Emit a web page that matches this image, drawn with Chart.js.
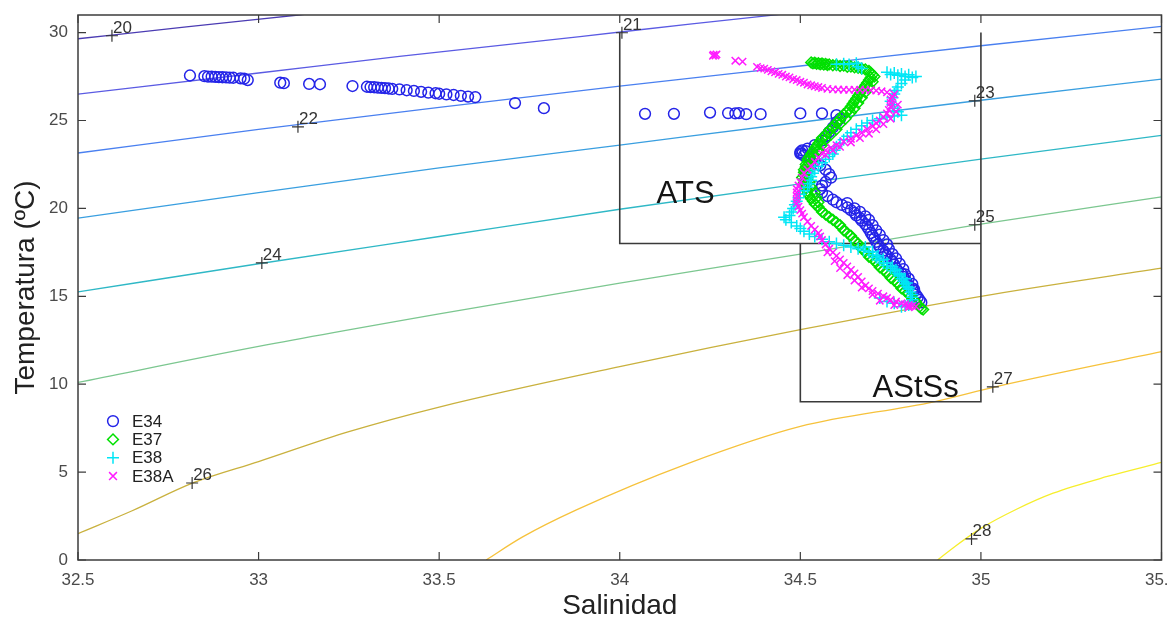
<!DOCTYPE html>
<html><head><meta charset="utf-8">
<script src="https://cdn.jsdelivr.net/npm/chart.js@4.4.1/dist/chart.umd.min.js"></script>
<style>html,body{margin:0;padding:0;background:#fff;overflow:hidden}#wrap{position:relative;width:1169px;height:628px}</style>
</head><body><div id="wrap"><canvas id="c" width="1169" height="628"></canvas></div>
<script>
// ---- axis ticks ----
const xTicks = [32.5, 33, 33.5, 34, 34.5, 35, 35.5];
const yTicks = [0, 5, 10, 15, 20, 25, 30];

// ---- isopycnals (sigma-t): [S, T] ----
const isoLevels = [20, 21, 22, 23, 24, 25, 26, 27, 28];
const iso20 = [[32.5,29.65],[32.8,30.32],[33.11,31.0],[33.2,31.2]];
const iso21 = [[32.5,26.5],[33.0,27.7],[33.39,28.65],[33.89,29.77],[34.2,30.5],[34.45,31.05]];
const iso22 = [[32.5,23.15],[33.0,24.5],[33.5,25.75],[34.0,26.95],[34.5,28.1],[35.0,29.25],[35.5,30.35]];
const iso23 = [[32.5,19.45],[33.0,20.9],[33.5,22.3],[34.0,23.6],[34.5,24.9],[35.0,26.15],[35.5,27.35]];
const iso24 = [[32.5,15.25],[33.0,16.85],[33.5,18.4],[34.0,19.95],[34.5,21.4],[35.0,22.8],[35.5,24.15]];
const iso25 = [[32.5,10.1],[33.0,12.15],[33.5,14.0],[34.0,15.75],[34.5,17.4],[35.0,19.1],[35.5,20.65]];
const iso26 = [[32.5,1.5],[32.65,2.8],[32.82,4.4],[33.0,5.6],[33.25,7.3],[33.5,8.7],[34.0,11.0],[34.5,13.1],[35.0,15.0],[35.5,16.6]];
const iso27 = [[33.63,0],[33.73,1.3],[33.88,2.85],[34.19,5.5],[34.5,7.6],[34.87,9.0],[35.04,9.85],[35.5,11.85]];
const iso28 = [[34.88,0],[34.93,0.8],[35.0,1.8],[35.1,2.9],[35.2,3.8],[35.35,4.75],[35.5,5.55]];
const isoLines = [iso20, iso21, iso22, iso23, iso24, iso25, iso26, iso27, iso28];
// label "+" positions for each isopycnal
const isoLabelPos = [[32.594,29.82],[34.006,29.99],[33.109,24.64],[34.983,26.12],[33.009,16.9],[34.983,19.07],[32.816,4.38],[35.033,9.85],[34.974,1.2]];

// ---- water mass boxes ----
const atsBox = [[34,30],[34,18],[35,18]];
const outerRight = [[35,30],[35,9],[34.5,9],[34.5,18]];
const massNames = ['ATS', 'AStSs'];
const massLabelPos = [[34.102,20.3],[34.70,9.28]];

// ---- stations: [Salinidad, Temperatura] ----
const seriesNames = ['E34', 'E37', 'E38', 'E38A'];
const E34 = [
 [32.81,27.56],[32.85,27.52],[32.86,27.5],[32.87,27.5],[32.88,27.48],[32.89,27.47],[32.9,27.46],[32.91,27.45],[32.92,27.44],[32.93,27.43],[32.95,27.4],[32.96,27.38],[32.97,27.3],
 [33.06,27.15],[33.07,27.12],[33.14,27.08],[33.17,27.06],
 [33.26,26.96],[33.3,26.92],[33.31,26.9],[33.32,26.89],[33.33,26.87],[33.34,26.86],[33.35,26.84],[33.36,26.82],[33.37,26.8],[33.39,26.77],[33.41,26.72],[33.43,26.68],[33.45,26.63],[33.47,26.58],[33.49,26.55],[33.5,26.52],[33.52,26.48],[33.54,26.45],[33.56,26.4],[33.58,26.36],[33.6,26.33],
 [33.71,25.99],[33.79,25.7],
 [34.07,25.38],[34.15,25.38],[34.25,25.45],[34.3,25.42],[34.32,25.4],[34.33,25.42],[34.35,25.36],[34.39,25.36],[34.5,25.4],[34.56,25.4],
 [34.6,25.3],[34.61,25.1],[34.6,24.9],[34.59,24.6],[34.58,24.35],[34.57,24.1],[34.56,23.85],[34.54,23.6],[34.52,23.4],[34.505,23.3],[34.5,23.2],[34.505,23.1],[34.51,23.0],[34.5,23.12],[34.515,23.25],[34.525,22.9],[34.54,22.7],[34.555,22.45],[34.57,22.2],[34.58,21.95],[34.585,21.75],[34.57,21.5],[34.56,21.3],[34.555,21.1],[34.56,20.9],[34.575,20.7],[34.59,20.5],[34.6,20.35],[34.615,20.2],[34.63,20.05],[34.64,19.9],[34.65,19.75],[34.655,19.6],[34.665,19.45],[34.67,19.3],[34.68,19.1],[34.685,18.95],[34.69,18.8],[34.695,18.6],[34.7,18.45],[34.705,18.3],[34.71,18.1],[34.715,17.95],[34.72,17.8],[34.73,17.6],[34.735,17.45],[34.74,17.3],[34.75,17.1],[34.755,16.95],[34.76,16.8],[34.765,16.6],[34.77,16.45],[34.78,16.3],[34.785,16.1],[34.79,15.95],[34.795,15.8],[34.8,15.6],[34.81,15.45],[34.815,15.3],[34.82,15.1],[34.825,14.95],[34.83,14.8],[34.835,14.65],
 [34.63,20.3],[34.65,20.0],[34.665,19.8],[34.68,19.55],[34.69,19.35],[34.7,19.05],[34.71,18.75],[34.72,18.5],[34.73,18.2],[34.74,17.95],[34.745,17.7],[34.755,17.4],[34.765,17.15],[34.775,16.85],[34.785,16.55],[34.79,16.25],[34.8,16.0],[34.81,15.7],[34.815,15.4]
];
const E37 = [
 [34.53,28.3],[34.535,28.25],[34.54,28.28],[34.545,28.22],[34.55,28.26],[34.555,28.2],[34.56,28.24],[34.565,28.18],[34.57,28.22],[34.575,28.16],[34.58,28.19],[34.59,28.14],[34.6,28.16],[34.61,28.1],[34.62,28.12],[34.63,28.06],[34.64,28.07],[34.65,28.02],[34.66,28.0],[34.67,27.95],[34.68,27.9],[34.69,27.82],[34.695,27.72],[34.7,27.6],
 [34.695,27.45],[34.69,27.3],[34.685,27.15],[34.68,27.0],[34.675,26.85],[34.67,26.7],[34.665,26.55],[34.66,26.4],[34.655,26.25],[34.65,26.1],[34.645,25.95],[34.64,25.8],[34.635,25.65],[34.63,25.5],[34.62,25.35],[34.615,25.2],[34.61,25.05],[34.6,24.9],[34.595,24.75],[34.59,24.6],[34.58,24.45],[34.575,24.3],[34.57,24.15],[34.56,24.0],[34.555,23.85],[34.55,23.7],[34.545,23.55],[34.54,23.4],[34.535,23.25],[34.53,23.1],[34.525,22.95],[34.52,22.8],[34.52,22.65],[34.515,22.5],[34.515,22.35],[34.51,22.2],[34.51,22.05],[34.51,21.9],[34.505,21.75],[34.51,21.6],[34.51,21.45],[34.51,21.3],[34.515,21.15],[34.52,21.0],[34.52,20.85],[34.525,20.7],[34.53,20.55],[34.535,20.4],[34.54,20.25],[34.55,20.1],[34.555,19.95],[34.56,19.8],[34.57,19.65],[34.58,19.5],[34.59,19.35],[34.6,19.2],[34.61,19.05],[34.615,18.9],[34.62,18.75],[34.63,18.6],[34.64,18.45],[34.645,18.3],[34.65,18.15],[34.66,18.0],[34.665,17.85],[34.67,17.7],[34.68,17.55],[34.685,17.4],[34.69,17.25],[34.7,17.1],[34.71,16.95],[34.715,16.8],[34.72,16.65],[34.73,16.5],[34.74,16.35],[34.745,16.2],[34.75,16.05],[34.76,15.9],[34.77,15.75],[34.775,15.6],[34.78,15.45],[34.79,15.3],[34.8,15.15],[34.805,15.0],[34.81,14.85],[34.82,14.7],[34.825,14.55],[34.83,14.4],[34.84,14.25],[34.835,14.3],
 [34.705,27.5],[34.7,27.2],[34.69,26.9],[34.68,26.6],[34.67,26.3],[34.66,26.0],[34.65,25.7],[34.64,25.45],[34.625,25.1],[34.61,24.8],[34.6,24.5],[34.585,24.2],[34.57,23.9],[34.56,23.6],[34.55,23.3],[34.54,23.0],[34.535,22.7],[34.525,22.4],[34.52,22.1],[34.52,21.8],[34.525,21.5],[34.53,21.2],[34.54,20.9],[34.545,20.6],[34.55,20.35]
];
const E38 = [
 [34.6,28.2],[34.62,28.22],[34.635,28.18],[34.655,28.26],[34.66,28.05],[34.67,27.95],[34.74,27.75],[34.75,27.62],[34.76,27.7],[34.77,27.58],[34.78,27.65],[34.79,27.5],[34.8,27.6],[34.81,27.45],[34.82,27.5],[34.79,27.3],[34.78,27.1],[34.77,26.9],[34.765,26.7],[34.76,26.5],[34.755,26.3],[34.75,26.1],[34.755,25.9],[34.76,25.7],[34.77,25.5],[34.78,25.3],[34.76,25.25],[34.74,25.2],[34.72,25.1],[34.7,25.0],[34.685,24.85],[34.67,24.7],[34.655,24.5],[34.64,24.3],[34.63,24.1],[34.62,23.9],[34.61,23.7],[34.6,23.5],[34.595,23.3],[34.59,23.1],[34.58,22.95],[34.57,22.8],[34.56,22.6],[34.55,22.4],[34.54,22.2],[34.535,22.0],[34.53,21.8],[34.53,21.6],[34.525,21.4],[34.52,21.2],[34.51,21.0],[34.5,20.8],[34.495,20.6],[34.49,20.4],[34.485,20.2],[34.48,20.0],[34.475,19.8],[34.47,19.6],[34.455,19.5],[34.46,19.35],[34.475,19.2],[34.49,19.0],[34.5,18.85],[34.51,18.7],[34.525,18.55],[34.54,18.4],[34.56,18.25],[34.58,18.1],[34.6,18.0],[34.62,17.9],[34.64,17.8],[34.66,17.7],[34.675,17.6],[34.69,17.5],[34.7,17.35],[34.71,17.2],[34.72,17.05],[34.73,16.9],[34.74,16.75],[34.75,16.6],[34.76,16.45],[34.77,16.3],[34.775,16.15],[34.78,16.0],[34.785,15.85],[34.79,15.7],[34.795,15.55],[34.8,15.4],[34.805,15.25],[34.81,15.1],[34.81,14.95],[34.81,14.8],[34.805,14.65],[34.8,14.5],[34.79,14.45],[34.78,14.4],
 [34.68,17.8],[34.7,17.55],[34.715,17.3],[34.73,17.1],[34.74,16.9],[34.755,16.7],[34.765,16.5],[34.775,16.25],[34.79,16.0],[34.795,15.75],[34.8,15.5],[34.76,14.6],[34.74,14.7],[34.72,14.9]
];
const E38A = [
 [34.26,28.74],[34.265,28.7],[34.258,28.68],[34.268,28.76],[34.32,28.4],[34.34,28.35],[34.38,28.05],[34.39,27.98],[34.4,27.95],[34.41,27.88],[34.42,27.8],[34.43,27.74],[34.44,27.65],[34.45,27.6],[34.46,27.5],[34.47,27.45],[34.48,27.35],[34.49,27.3],[34.5,27.2],[34.51,27.15],[34.52,27.05],[34.53,27.0],[34.54,26.95],[34.55,26.9],[34.56,26.85],[34.575,26.8],[34.59,26.77],[34.605,26.76],[34.62,26.75],[34.635,26.74],[34.65,26.75],[34.665,26.74],[34.68,26.73],[34.695,26.72],[34.71,26.7],[34.725,26.66],[34.74,26.6],[34.76,26.5],
 [34.755,26.35],[34.75,26.2],[34.75,26.0],[34.75,25.8],[34.745,25.6],[34.74,25.4],[34.73,25.2],[34.72,25.0],[34.71,24.85],[34.7,24.67],[34.685,24.5],[34.67,24.3],[34.655,24.15],[34.64,23.95],[34.62,23.8],[34.6,23.6],[34.585,23.45],[34.57,23.3],[34.56,23.1],[34.55,22.9],[34.54,22.65],[34.53,22.4],[34.52,22.2],[34.51,22.0],[34.505,21.75],[34.5,21.5],[34.495,21.3],[34.49,21.1],[34.49,20.9],[34.49,20.7],[34.49,20.5],[34.49,20.3],[34.495,20.1],[34.5,19.9],[34.505,19.7],[34.51,19.5],[34.52,19.25],[34.53,19.0],[34.54,18.8],[34.55,18.6],[34.555,18.4],[34.56,18.2],[34.57,17.95],[34.58,17.7],[34.59,17.5],[34.6,17.3],[34.61,17.1],[34.62,16.9],[34.63,16.7],[34.64,16.5],[34.65,16.3],[34.66,16.1],[34.67,15.85],[34.68,15.6],[34.69,15.45],[34.7,15.3],[34.715,15.15],[34.73,15.0],[34.74,14.9],[34.75,14.8],[34.765,14.7],[34.78,14.6],[34.79,14.55],[34.8,14.5],[34.81,14.45],[34.82,14.42],
 [34.77,25.9],[34.765,25.5],[34.75,25.1],[34.73,24.8],[34.71,24.5],[34.69,24.25],[34.665,24.0],[34.64,23.75],[34.61,23.5],[34.59,23.3],[34.57,23.05],[34.575,17.5],[34.595,17.0],[34.61,16.6],[34.63,16.2],[34.65,15.9],[34.67,15.5],[34.7,15.1],[34.72,14.75],[34.76,14.5],[34.8,14.38]
];

// ---- styles ----
const isoColors = ['#4b3cb3','#5b5be3','#4a80f0','#3a9fe0','#2fb8c6','#7cc790','#c9b13e','#f6c23c','#f6ee2c'];
const seriesStyle = [
  {color:'#2424e8', style:'circle',   r:5.4},
  {color:'#00e000', style:'rectRot',  r:5.4},
  {color:'#00e6f6', style:'cross',    r:6},
  {color:'#ff1cff', style:'crossRot', r:5.2}
];
const FONT = "'Liberation Sans', Arial, Helvetica, sans-serif";
const toXY = a => a.map(p => ({x:p[0], y:p[1]}));

const datasets = [];
const seriesData = [E34, E37, E38, E38A];
seriesData.forEach((d, i) => {
  const st = seriesStyle[i];
  datasets.push({label: seriesNames[i], data: toXY(d), showLine:false, pointStyle: st.style, pointRadius: st.r,
    pointBorderColor: st.color, pointBackgroundColor:'rgba(0,0,0,0)', pointBorderWidth:1.5, order: 4 - i});
});
isoLines.forEach((d, i) => {
  datasets.push({label:'s'+isoLevels[i], data: toXY(d), showLine:true, borderColor: isoColors[i], borderWidth:1.3,
    pointRadius:0, cubicInterpolationMode:'monotone', order: 20});
});
datasets.push({label:'isoLab', data: toXY(isoLabelPos), showLine:false, pointStyle:'cross', pointRadius:6,
  pointBorderColor:'#333', pointBorderWidth:1.2, order: 15});
[atsBox, outerRight].forEach(b => datasets.push({label:'box', data: toXY(b), showLine:true, borderColor:'#3a3a3a',
  borderWidth:1.6, pointRadius:0, tension:0, order: 12}));

function drawMarker(ctx, style, x, y, r, color){
  ctx.save(); ctx.strokeStyle = color; ctx.lineWidth = 1.5; ctx.beginPath();
  if (style === 'circle') ctx.arc(x, y, r, 0, Math.PI*2);
  else if (style === 'rectRot') { ctx.moveTo(x, y-r); ctx.lineTo(x+r, y); ctx.lineTo(x, y+r); ctx.lineTo(x-r, y); ctx.closePath(); }
  else if (style === 'cross') { ctx.moveTo(x-r, y); ctx.lineTo(x+r, y); ctx.moveTo(x, y-r); ctx.lineTo(x, y+r); }
  else { const q = r*0.75; ctx.moveTo(x-q, y-q); ctx.lineTo(x+q, y+q); ctx.moveTo(x+q, y-q); ctx.lineTo(x-q, y+q); }
  ctx.stroke(); ctx.restore();
}

const decor = {
  id:'decor',
  afterDatasetsDraw(chart){
    const {ctx, chartArea:a, scales:{x, y}} = chart;
    ctx.save();
    ctx.fillStyle = '#333'; ctx.font = '17px ' + FONT; ctx.textAlign = 'left'; ctx.textBaseline = 'alphabetic';
    isoLabelPos.forEach((p, i) => ctx.fillText(String(isoLevels[i]), x.getPixelForValue(p[0]) + 1, y.getPixelForValue(p[1]) - 3));
    ctx.fillStyle = '#141414'; ctx.font = '31px ' + FONT;
    massLabelPos.forEach((p, i) => ctx.fillText(massNames[i], x.getPixelForValue(p[0]), y.getPixelForValue(p[1])));
    ctx.strokeStyle = '#3c3c3c'; ctx.lineWidth = 1.5;
    ctx.strokeRect(a.left, a.top, a.right - a.left, a.bottom - a.top);
    ctx.lineWidth = 1.2; ctx.beginPath();
    const L = 8;
    xTicks.forEach(v => { const px = x.getPixelForValue(v); ctx.moveTo(px, a.bottom); ctx.lineTo(px, a.bottom - L); ctx.moveTo(px, a.top); ctx.lineTo(px, a.top + L); });
    yTicks.forEach(v => { const py = y.getPixelForValue(v); ctx.moveTo(a.left, py); ctx.lineTo(a.left + L, py); ctx.moveTo(a.right, py); ctx.lineTo(a.right - L, py); });
    ctx.stroke();
    const lx = a.left + 35, ly = y.getPixelForValue(7.9);
    ctx.font = '17px ' + FONT; ctx.fillStyle = '#222'; ctx.textBaseline = 'middle';
    seriesNames.forEach((n, i) => {
      const yy = ly + i * 18.3;
      drawMarker(ctx, seriesStyle[i].style, lx, yy, seriesStyle[i].r, seriesStyle[i].color);
      ctx.fillText(n, lx + 19, yy + 1);
    });
    ctx.restore();
  }
};

new Chart(document.getElementById('c'), {
  type:'scatter',
  data:{datasets},
  options:{
    responsive:false, animation:false, devicePixelRatio:1,
    layout:{padding:{top:15, right:7, left:0, bottom:0}},
    plugins:{legend:{display:false}, tooltip:{enabled:false}},
    scales:{
      x:{type:'linear', min:32.5, max:35.5,
        afterBuildTicks(s){ s.ticks = xTicks.map(v => ({value:v})); },
        afterFit(s){ s.paddingLeft = 0; s.paddingRight = 0; s.height = 68; },
        grid:{display:false, drawTicks:false}, border:{display:false},
        ticks:{color:'#4a4a4a', font:{size:17, family:FONT}, padding:10, maxRotation:0, autoSkip:false, callback: v => String(v)},
        title:{display:true, text:'Salinidad', color:'#222', font:{size:28, family:FONT}, padding:{bottom:5}}
      },
      y:{type:'linear', min:0, max:31,
        afterBuildTicks(s){ s.ticks = yTicks.map(v => ({value:v})); },
        afterFit(s){ s.width = 78; s.paddingTop = 0; s.paddingBottom = 0; },
        grid:{display:false, drawTicks:false}, border:{display:false},
        ticks:{color:'#4a4a4a', font:{size:17, family:FONT}, padding:10, callback: v => String(v)},
        title:{display:true, text:'Temperatura (ºC)', color:'#222', font:{size:28, family:FONT}, padding:{top:9}}
      }
    }
  },
  plugins:[decor]
});
</script></body></html>
